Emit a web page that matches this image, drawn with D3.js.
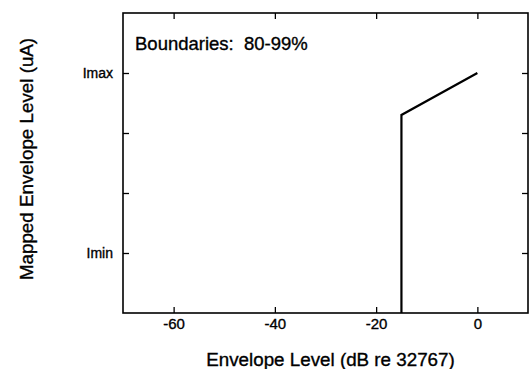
<!DOCTYPE html>
<html>
<head>
<meta charset="utf-8">
<script src="https://cdn.jsdelivr.net/npm/d3@7"></script>
<style>
  html, body { margin: 0; padding: 0; background: #fff; }
  svg text { font-family: "Liberation Sans", Arial, Helvetica, sans-serif; fill: #000; stroke: #000; stroke-width: 0.35px; }
</style>
</head>
<body>
<svg id="chart" width="532" height="369"></svg>
<script>
// Envelope level (dB re 32767) against mapped current level
const levelsDb = [-15, -15, 0];
const mappedLevels = [0, 3.3, 4];
const xTicks = [-60, -40, -20, 0];
const xTickLabels = ["-60", "-40", "-20", "0"];
const yTicks = [1, 2, 3, 4];
const yTickLabels = ["Imin", "", "", "Imax"];
const xDomain = [-70, 10];
const yDomain = [0, 5];

const svg = d3.select("#chart");
const margin = { left: 123, right: 4, top: 13, bottom: 56 };
const W = 532, H = 369;

const x = d3.scaleLinear().domain(xDomain).range([margin.left, W - margin.right]);
const y = d3.scaleLinear().domain(yDomain).range([H - margin.bottom, margin.top]);

const tickLen = 6;

// bottom axis with labels
const gx = svg.append("g")
  .attr("transform", `translate(0,${y(yDomain[0])})`)
  .call(d3.axisBottom(x).tickValues(xTicks).tickSize(-tickLen).tickPadding(5)
    .tickFormat((d, i) => xTickLabels[i]));
// top axis, ticks only
const gxt = svg.append("g")
  .attr("transform", `translate(0,${y(yDomain[1])})`)
  .call(d3.axisTop(x).tickValues(xTicks).tickSize(-tickLen).tickFormat(""));
// left axis with Imin/Imax labels
const gy = svg.append("g")
  .attr("transform", `translate(${x(xDomain[0])},0)`)
  .call(d3.axisLeft(y).tickValues(yTicks).tickSize(-tickLen).tickPadding(10)
    .tickFormat((d, i) => yTickLabels[i]));
// right axis, ticks only
const gyr = svg.append("g")
  .attr("transform", `translate(${x(xDomain[1])},0)`)
  .call(d3.axisRight(y).tickValues(yTicks).tickSize(-tickLen).tickFormat(""));

[gx, gxt, gy, gyr].forEach(g => {
  g.select(".domain").remove();
  g.selectAll(".tick line").attr("stroke", "#000").attr("stroke-width", 1.3);
  g.selectAll("text").style("font-size", "15px").attr("fill", "#000");
});
gy.selectAll("text").style("font-size", "14px");

// frame
svg.append("rect")
  .attr("x", x(xDomain[0])).attr("y", y(yDomain[1]))
  .attr("width", x(xDomain[1]) - x(xDomain[0]))
  .attr("height", y(yDomain[0]) - y(yDomain[1]))
  .attr("fill", "none").attr("stroke", "#000").attr("stroke-width", 1.6);

// mapping curve
const pts = levelsDb.map((d, i) => [d, mappedLevels[i]]);
svg.append("path")
  .datum(pts)
  .attr("fill", "none")
  .attr("stroke", "#000")
  .attr("stroke-width", 2.2)
  .attr("stroke-linejoin", "miter")
  .attr("d", d3.line().x(d => x(d[0])).y(d => y(d[1])));

// annotation
svg.append("text")
  .attr("x", 135).attr("y", 50)
  .style("font-size", "18.5px")
  .attr("xml:space", "preserve")
  .text("Boundaries:  80-99%");

// axis titles
svg.append("text")
  .attr("x", 330.5)
  .attr("y", 365.5)
  .attr("text-anchor", "middle")
  .style("font-size", "18.8px")
  .text("Envelope Level (dB re 32767)");

svg.append("text")
  .attr("transform", `translate(33,159) rotate(-90)`)
  .attr("text-anchor", "middle")
  .style("font-size", "18.8px")
  .text("Mapped Envelope Level (uA)");
</script>
</body>
</html>
